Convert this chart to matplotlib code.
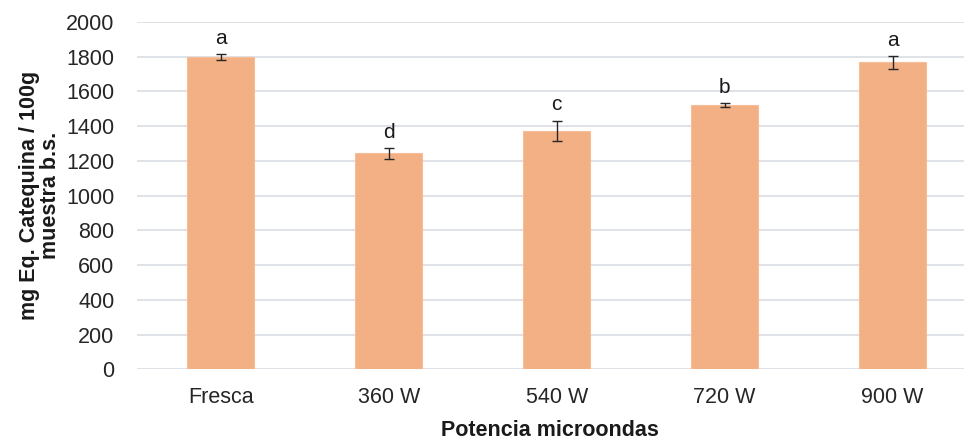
import matplotlib.pyplot as plt

# polifenoles totales segun potencia de microondas
categorias = ['Fresca', '360 W', '540 W', '720 W', '900 W']
valores = [1796, 1243, 1372, 1520, 1767]
errores = [17, 31, 60, 12, 36]
letras = ['a', 'd', 'c', 'b', 'a']

plt.rcParams['font.family'] = ['Liberation Sans', 'DejaVu Sans']

fig = plt.figure(figsize=(9.64, 4.41), dpi=100)
ax = fig.add_axes([0.1418, 0.1626, 0.8582, 0.7875])

x = range(len(categorias))
ax.bar(x, valores, width=0.4, color='#F2B084', edgecolor='#F5BE98', linewidth=0.8, zorder=2)
ax.errorbar(x, valores, yerr=errores, fmt='none', ecolor='#262626',
            elinewidth=1.0, capsize=3.6, capthick=1.0, zorder=3)

for i in x:
    ax.annotate(letras[i], (i, valores[i] + errores[i]), xytext=(0, 4.5),
                textcoords='offset points', ha='center', va='bottom',
                fontsize=15, color='#1a1a1a')

ax.set_ylim(0, 2000)
ax.set_xlim(-0.5, 4.425)
ax.set_yticks(range(0, 2001, 200))
ax.set_xticks(list(x))
ax.set_xticklabels(categorias)
ax.tick_params(axis='both', length=0, labelsize=15.5, colors='#262626')
ax.tick_params(axis='y', pad=16)
ax.tick_params(axis='x', pad=13)

ax.grid(axis='y', color='#D9DDE3', linewidth=1.2, zorder=0)
for s in ax.spines.values():
    s.set_visible(False)

ax.set_ylabel('mg Eq. Catequina / 100g\nmuestra b.s.', fontsize=15.5,
              fontweight='bold', color='#1a1a1a', labelpad=4, linespacing=1.0)
ax.set_xlabel('Potencia microondas', fontsize=15.5, fontweight='bold',
              color='#1a1a1a', labelpad=8.5)

fig.savefig('out.png', dpi=100)
